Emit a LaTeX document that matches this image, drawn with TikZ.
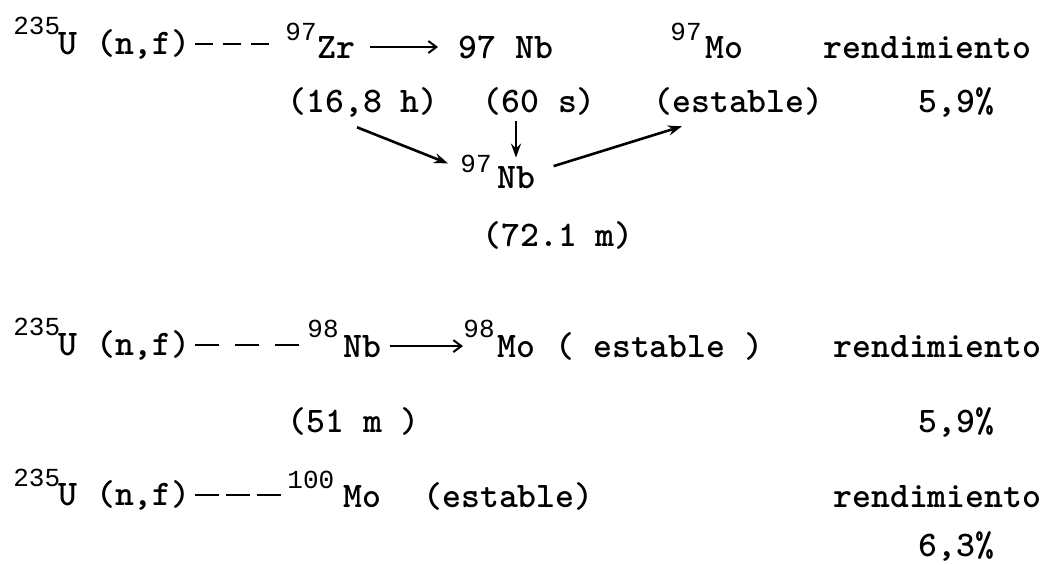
\documentclass[tikz,border=0pt]{standalone}
\usepackage{fontspec}
\newfontfamily\isofont{Liberation Mono}
\usetikzlibrary{arrows.meta, positioning}
\tikzset{
  tw/.style={font=\fontsize{18}{20}\selectfont\ttfamily\bfseries, inner sep=0pt, anchor=base west},
  iso/.style={font=\fontsize{13}{14}\selectfont\isofont, inner sep=0pt, anchor=base west},
  typed/.style={-{Straight Barb[length=4pt, width=6pt]}, line width=1pt},
  decay/.style={-{Stealth[length=7pt, width=5pt]}, line width=1.3pt},
  feed/.style={line width=1.4pt, dash pattern=on 9pt off 5pt},
}
\begin{document}
\begin{tikzpicture}[x=0.5pt, y=-0.5pt]
      \useasboundingbox (0,0) rectangle (1056,564);
      % mass 97
      \node[iso] (uA) at (13,34) {235};
      \node[tw] (nfA) at (58,54) {U (n,f)};
      \node[iso] (zrm) at (285,40) {97};
      \node[tw] (zr) at (317,58) {Zr};
      \node[tw] (nbA) at (458,58) {97 Nb};
      \node[iso] (mom) at (670,40) {97};
      \node[tw] (moA) at (705,58) {Mo};
      \node[tw] (rdA) at (823,58) {rendimiento};
      \node[tw] (hZr) at (287,112) {(16,8 h)};
      \node[tw] (hNbA) at (482,112) {(60 s)};
      \node[tw] (stA) at (653,112) {(estable)};
      \node[tw] (ydA) at (918,112) {5,9\%};
      \node[iso] (nbm) at (460,172) {97};
      \node[tw] (nbB) at (497,188) {Nb};
      \node[tw] (hNbB) at (482,246) {(72.1 m)};
      % mass 98
      \node[iso] (uB) at (13,335) {235};
      \node[tw] (nfB) at (58,355) {U (n,f)};
      \node[iso] (nbcm) at (307,337) {98};
      \node[tw] (nbC) at (343,357) {Nb};
      \node[iso] (mobm) at (463,337) {98};
      \node[tw] (moB) at (497,357) {Mo};
      \node[tw] (stB) at (555,357) {( estable )};
      \node[tw] (rdB) at (833,357) {rendimiento};
      \node[tw] (hNbC) at (287,432) {(51 m )};
      \node[tw] (ydB) at (918,432) {5,9\%};
      % mass 100
      \node[iso] (uC) at (13,486) {235};
      \node[tw] (nfC) at (58,505) {U (n,f)};
      \node[iso] (mocm) at (287,488) {100};
      \node[tw] (moC) at (343,507) {Mo};
      \node[tw] (stC) at (423,507) {(estable)};
      \node[tw] (rdC) at (833,507) {rendimiento};
      \node[tw] (ydC) at (918,556) {6,3\%};
      % fission
      \draw[feed, shorten <=2pt, shorten >=3pt] (nfA.east) -- (nfA.east -| zrm.west);
      \draw[feed, dash pattern=on 12pt off 8pt, shorten <=2pt, shorten >=4pt] (nfB.east) -- (nfB.east -| nbcm.west);
      \draw[feed, dash pattern=on 12pt off 3.5pt, shorten <=2pt, shorten >=3pt] (nfC.east) -- (nfC.east -| mocm.west);
      % decays
      \draw[typed, shorten <=7pt, shorten >=10pt] (zr.east) -- (zr.east -| nbA.west);
      \draw[typed, shorten <=4pt, shorten >=0pt] (nbC.east) -- (nbC.east -| mobm.west);
      \coordinate (dn) at ([xshift=9.5pt]nbB.north west);
      \draw[decay, line width=1pt, shorten <=3pt, shorten >=4pt] (dn |- hNbA.south) -- (dn);
      \draw[decay] ([shift={(70,10)}]hZr.south west) -- ([xshift=-6pt]nbm.west);
      \draw[decay] ([shift={(18,-11)}]nbB.east) -- ([shift={(29,11)}]stA.south west);
\end{tikzpicture}
\end{document}
